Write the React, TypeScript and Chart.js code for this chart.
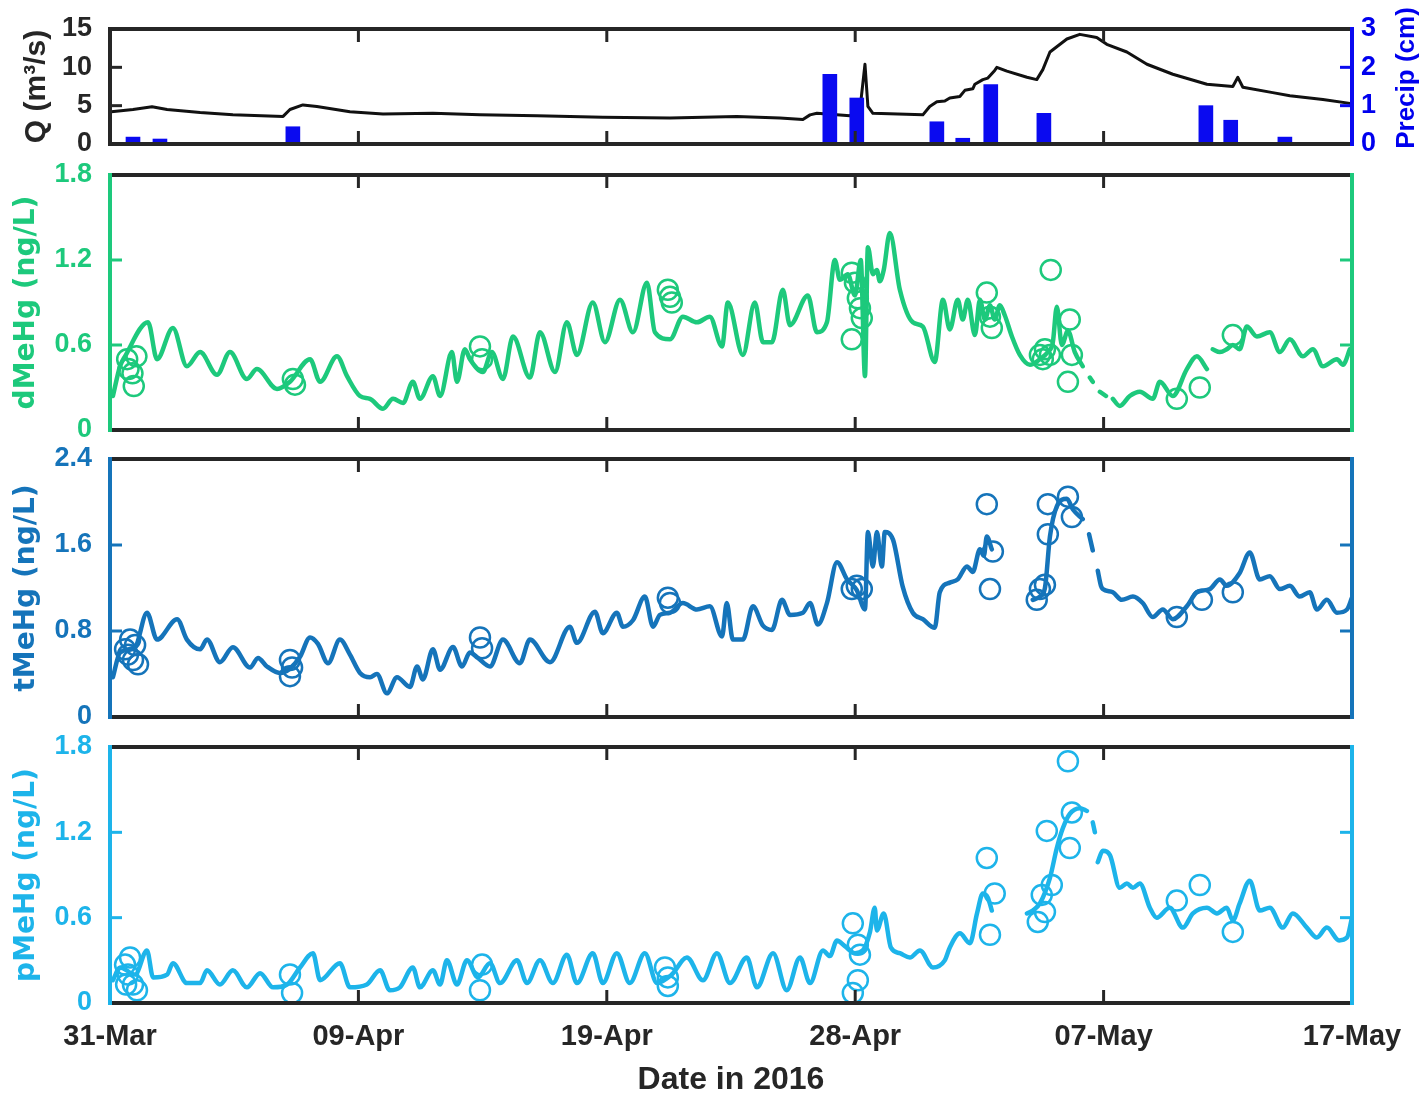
import React, { useEffect, useRef } from 'react';
import { Chart, registerables } from 'chart.js';

Chart.register(...registerables);

// ---------- data ----------
const xTickPos = [0, 9.4, 18.8, 28.2, 37.6, 47];
const xTickLabels = ['31-Mar', '09-Apr', '19-Apr', '28-Apr', '07-May', '17-May'];

const qTicks = [0, 5, 10, 15];
const precipTicks = [0, 1, 2, 3];
const dTicks = [0, 0.6, 1.2, 1.8];
const tTicks = [0, 0.8, 1.6, 2.4];
const pTicks = [0, 0.6, 1.2, 1.8];

type Pt = [number, number | null];

// discharge Q (m3/s): [day since 31-Mar, value]
const qLine: Pt[] = [[0.05,4.2],[0.87,4.5],[1.59,4.85],[2.16,4.5],[3.41,4.1],[4.65,3.8],[6.55,3.6],[6.81,4.5],[7.30,5.1],[7.83,4.9],[9.08,4.2],[10.33,3.9],[12.22,4.0],[14.0,3.8],[16.16,3.7],[18.65,3.5],[21.19,3.4],[23.72,3.6],[25.35,3.4],[26.22,3.2],[26.49,3.8],[26.75,4.0],[28.0,3.7],[28.38,4.5],[28.57,10.4],[28.68,4.9],[28.87,4.0],[30.76,3.8],[31.02,4.9],[31.29,5.5],[31.59,5.6],[31.78,6.0],[32.16,6.2],[32.35,7.0],[32.65,7.2],[32.73,7.8],[33.03,8.4],[33.22,8.6],[33.48,9.6],[33.56,10.0],[33.94,9.5],[34.70,8.7],[35.07,8.4],[35.30,9.7],[35.57,12.0],[36.21,13.7],[36.70,14.3],[37.34,13.9],[37.72,13.0],[38.48,12.0],[39.24,10.4],[40.22,9.1],[41.51,7.8],[42.49,7.5],[42.68,8.7],[42.87,7.4],[44.0,6.7],[44.65,6.3],[45.90,5.8],[46.92,5.3]];

const precipDay = [0.87, 1.89, 6.92, 27.24, 28.26, 31.29, 32.27, 33.33, 35.34, 41.47, 42.41, 44.46];
const precipCm = [0.18, 0.13, 0.45, 1.82, 1.2, 0.58, 0.15, 1.55, 0.8, 1.0, 0.62, 0.18];

const dMeHgLine: Pt[] = [[0.11,0.24],[0.38,0.45],[0.57,0.52],[1.44,0.76],[1.78,0.50],[2.38,0.72],[2.91,0.45],[3.41,0.55],[4.05,0.39],[4.54,0.55],[5.18,0.36],[5.56,0.43],[6.32,0.29],[6.81,0.34],[7.57,0.50],[7.95,0.34],[8.59,0.52],[8.97,0.38],[9.46,0.24],[9.84,0.22],[10.33,0.15],[10.71,0.22],[11.09,0.19],[11.46,0.34],[11.73,0.22],[12.22,0.38],[12.49,0.24],[12.94,0.55],[13.13,0.34],[13.43,0.57],[13.62,0.50],[14.11,0.41],[14.45,0.55],[14.87,0.36],[15.25,0.66],[15.89,0.37],[16.27,0.69],[16.84,0.41],[17.29,0.76],[17.67,0.53],[18.27,0.90],[18.73,0.62],[19.30,0.92],[19.79,0.69],[20.32,1.04],[20.62,0.69],[21.19,0.64],[21.68,0.80],[22.21,0.76],[22.70,0.80],[23.16,0.59],[23.38,0.90],[23.95,0.53],[24.40,0.90],[24.71,0.62],[25.05,0.62],[25.46,0.99],[25.73,0.74],[26.41,0.95],[26.75,0.69],[27.13,0.76],[27.43,1.20],[27.62,1.06],[27.92,1.10],[28.19,0.95],[28.41,1.20],[28.57,0.38],[28.68,1.29],[28.87,1.10],[29.02,1.13],[29.13,1.05],[29.28,1.13],[29.51,1.39],[29.89,0.99],[30.38,0.76],[30.76,0.73],[31.21,0.48],[31.52,0.92],[31.78,0.71],[32.08,0.92],[32.27,0.78],[32.46,0.92],[32.73,0.67],[32.92,0.92],[33.11,0.78],[33.30,0.88],[33.48,0.78],[33.67,0.88],[33.86,0.81],[34.13,0.66],[34.43,0.53],[34.81,0.46],[35.19,0.50],[35.49,0.55],[35.68,0.62],[35.83,0.87],[36.02,0.60],[36.25,0.70],[36.51,0.55],[36.81,0.45],[36.95,null],[37.08,0.37],[37.19,0.34],[37.30,null],[37.46,0.27],[37.69,0.24],[37.80,null],[37.95,0.22],[38.21,0.17],[38.59,0.24],[38.97,0.27],[39.46,0.22],[39.73,0.34],[40.22,0.24],[40.75,0.43],[41.13,0.52],[41.51,0.43],[41.62,null],[41.73,0.57],[42.00,0.55],[42.26,0.57],[42.49,0.60],[42.75,0.57],[43.02,0.73],[43.40,0.66],[43.89,0.69],[44.27,0.55],[44.65,0.64],[45.14,0.52],[45.52,0.57],[45.90,0.45],[46.43,0.50],[46.66,0.46],[46.92,0.57]];

const dMeHgSamples: Pt[] = [[0.65,0.50],[0.7,0.43],[0.85,0.40],[0.9,0.31],[1.0,0.52],[6.92,0.36],[7.0,0.32],[14.0,0.59],[14.08,0.50],[21.11,0.99],[21.19,0.94],[21.26,0.90],[28.07,1.11],[28.19,1.04],[28.30,0.93],[28.38,0.86],[28.45,0.79],[28.07,0.64],[33.18,0.97],[33.30,0.80],[33.37,0.72],[35.19,0.53],[35.30,0.50],[35.38,0.57],[35.57,0.53],[35.60,1.13],[36.32,0.78],[36.40,0.53],[36.25,0.34],[40.37,0.22],[41.24,0.30],[42.49,0.67]];

const tMeHgLine: Pt[] = [[0.11,0.37],[0.38,0.60],[0.95,0.65],[1.40,0.97],[1.78,0.72],[2.54,0.91],[2.91,0.72],[3.41,0.63],[3.67,0.72],[4.16,0.51],[4.65,0.65],[5.30,0.46],[5.60,0.55],[5.94,0.47],[6.43,0.41],[6.81,0.45],[7.19,0.56],[7.57,0.74],[7.87,0.68],[8.25,0.50],[8.70,0.72],[9.08,0.58],[9.46,0.41],[9.84,0.37],[10.10,0.40],[10.48,0.22],[10.86,0.37],[11.35,0.28],[11.62,0.47],[11.84,0.35],[12.22,0.63],[12.49,0.44],[12.98,0.65],[13.32,0.47],[13.62,0.60],[13.92,0.55],[14.38,0.47],[14.87,0.72],[15.51,0.50],[15.89,0.72],[16.65,0.51],[17.40,0.84],[17.67,0.69],[18.35,0.98],[18.65,0.78],[19.18,0.97],[19.41,0.84],[19.79,0.90],[20.24,1.12],[20.55,0.84],[20.81,0.95],[21.19,0.97],[21.68,1.06],[22.21,1.00],[22.70,1.03],[23.16,0.75],[23.34,1.06],[23.57,0.72],[23.95,0.72],[24.33,1.03],[24.71,0.85],[25.05,0.81],[25.43,1.09],[25.73,0.95],[26.22,0.97],[26.49,1.06],[26.79,0.86],[27.13,1.06],[27.51,1.44],[27.89,1.28],[28.26,1.18],[28.57,1.00],[28.68,1.72],[28.87,1.40],[29.02,1.72],[29.21,1.40],[29.32,1.72],[29.63,1.65],[30.00,1.21],[30.38,0.97],[30.76,0.91],[31.21,0.83],[31.40,1.16],[31.78,1.25],[32.08,1.28],[32.43,1.40],[32.65,1.35],[32.92,1.56],[33.07,1.50],[33.18,1.68],[33.37,1.56],[34.2,null],[34.92,1.09],[35.19,1.12],[35.38,1.20],[35.57,1.68],[35.83,1.96],[36.21,2.03],[36.44,1.93],[36.81,1.84],[36.9,null],[37.05,1.70],[37.19,1.55],[37.27,null],[37.38,1.36],[37.50,1.22],[37.57,1.19],[37.95,1.16],[38.29,1.09],[38.71,1.12],[39.08,1.06],[39.46,0.93],[39.84,1.00],[40.22,0.91],[40.75,1.03],[41.13,1.16],[41.62,1.19],[42.00,1.28],[42.26,1.22],[42.75,1.34],[43.13,1.53],[43.51,1.28],[43.89,1.31],[44.27,1.19],[44.65,1.22],[45.02,1.12],[45.40,1.16],[45.67,1.00],[46.05,1.09],[46.43,0.97],[46.81,1.00],[47.0,1.11]];

const tMeHgSamples: Pt[] = [[0.57,0.63],[0.68,0.58],[0.76,0.72],[0.87,0.53],[0.95,0.67],[1.06,0.49],[6.81,0.53],[6.89,0.46],[6.81,0.38],[14.0,0.74],[14.08,0.64],[21.11,1.11],[21.19,1.06],[28.07,1.19],[28.26,1.22],[28.45,1.19],[33.18,1.98],[33.41,1.54],[33.30,1.19],[35.07,1.09],[35.19,1.19],[35.38,1.23],[35.49,1.98],[35.49,1.70],[36.25,2.05],[36.40,1.86],[40.37,0.93],[41.32,1.09],[42.49,1.16]];

const pMeHgLine: Pt[] = [[0.11,0.16],[0.38,0.25],[0.95,0.20],[1.40,0.37],[1.63,0.18],[2.16,0.20],[2.38,0.28],[2.91,0.14],[3.41,0.14],[3.67,0.23],[4.16,0.13],[4.65,0.23],[5.18,0.11],[5.68,0.21],[6.17,0.11],[6.70,0.13],[7.19,0.25],[7.68,0.35],[7.95,0.16],[8.70,0.28],[9.08,0.11],[9.72,0.13],[10.22,0.23],[10.59,0.09],[10.97,0.11],[11.46,0.25],[11.73,0.11],[12.22,0.23],[12.49,0.13],[12.75,0.30],[13.13,0.13],[13.51,0.30],[13.92,0.18],[14.38,0.28],[14.76,0.14],[15.40,0.30],[15.78,0.14],[16.27,0.30],[16.76,0.14],[17.29,0.34],[17.67,0.14],[18.27,0.35],[18.65,0.14],[19.18,0.35],[19.67,0.14],[20.24,0.35],[20.70,0.14],[21.26,0.20],[21.83,0.32],[22.44,0.16],[22.97,0.35],[23.46,0.14],[24.10,0.32],[24.48,0.11],[25.09,0.35],[25.61,0.09],[26.11,0.32],[26.49,0.14],[26.98,0.37],[27.24,0.33],[27.51,0.44],[27.81,0.40],[28.19,0.35],[28.49,0.37],[28.76,0.50],[28.94,0.67],[29.02,0.51],[29.28,0.63],[29.55,0.39],[29.89,0.35],[30.27,0.32],[30.65,0.37],[31.14,0.25],[31.59,0.30],[31.78,0.39],[32.16,0.49],[32.54,0.42],[32.81,0.63],[33.03,0.77],[33.22,0.74],[33.37,0.65],[33.9,null],[34.70,0.63],[34.92,0.65],[35.19,0.70],[35.57,0.88],[35.83,1.09],[36.06,1.23],[36.32,1.33],[36.70,1.37],[36.97,1.35],[37.05,null],[37.19,1.27],[37.27,1.20],[37.32,null],[37.38,0.99],[37.57,1.07],[37.84,1.04],[38.21,0.81],[38.48,0.84],[38.71,0.81],[38.97,0.84],[39.35,0.67],[39.61,0.60],[40.10,0.67],[40.60,0.53],[40.98,0.63],[41.51,0.67],[41.89,0.63],[42.26,0.67],[42.49,0.58],[42.75,0.70],[43.13,0.86],[43.51,0.65],[43.89,0.67],[44.38,0.53],[44.76,0.63],[45.29,0.53],[45.67,0.46],[46.05,0.53],[46.51,0.44],[46.81,0.46],[47.0,0.60]];

const pMeHgSamples: Pt[] = [[0.57,0.27],[0.61,0.13],[0.68,0.20],[0.76,0.32],[0.87,0.13],[1.02,0.09],[6.81,0.20],[6.89,0.07],[14.0,0.09],[14.08,0.27],[21.0,0.25],[21.11,0.18],[21.11,0.12],[28.11,0.56],[28.30,0.41],[28.38,0.34],[28.30,0.16],[28.11,0.07],[33.18,1.02],[33.48,0.77],[33.30,0.48],[35.11,0.57],[35.26,0.76],[35.38,0.64],[35.64,0.83],[35.45,1.21],[36.25,1.70],[36.32,1.09],[36.40,1.34],[40.37,0.72],[41.24,0.83],[42.49,0.50]];

// ---------- styling ----------
const FONT = "'Liberation Sans', Arial, Helvetica, sans-serif";
const TITLE_FONT = "'DejaVu Sans', 'Liberation Sans', Arial, sans-serif";
const AXIS = '#262626';
const GREEN = '#1DC97C';
const TBLUE = '#1574BA';
const PBLUE = '#1DB4EA';
const PRECIP = '#0A0AF0';
const PRECIP_TXT = '#0000EE';

const toXY = (a: Pt[]) => a.map(([x, y]) => ({ x, y }));

const framePlugin = {
  id: 'frame',
  afterDraw(chart: any, _args: any, o: any) {
    const { ctx, chartArea: a } = chart;
    const xs = chart.scales.x;
    const ys = chart.scales.y;
    const seg = (x1: number, y1: number, x2: number, y2: number) => {
      ctx.beginPath();
      ctx.moveTo(x1, y1);
      ctx.lineTo(x2, y2);
      ctx.stroke();
    };
    ctx.save();
    ctx.lineCap = 'butt';
    ctx.lineWidth = 3;
    ctx.strokeStyle = AXIS;
    xTickPos.forEach((v) => {
      const px = xs.getPixelForValue(v);
      if (px < a.left + 3 || px > a.right - 3) return;
      seg(px, a.top, px, a.top + 13);
      seg(px, a.bottom, px, a.bottom - 13);
    });
    ctx.strokeStyle = o.leftColor;
    (o.leftTicks as number[]).forEach((v) => {
      const py = ys.getPixelForValue(v);
      if (py < a.top + 3 || py > a.bottom - 3) return;
      seg(a.left, py, a.left + 12, py);
    });
    const rs = o.rightScale ? chart.scales[o.rightScale] : ys;
    ctx.strokeStyle = o.rightColor;
    (o.rightTicks as number[]).forEach((v) => {
      const py = rs.getPixelForValue(v);
      if (py < a.top + 3 || py > a.bottom - 3) return;
      seg(a.right, py, a.right - 12, py);
    });
    ctx.lineWidth = 4;
    ctx.strokeStyle = AXIS;
    seg(a.left, a.top, a.right, a.top);
    seg(a.left, a.bottom, a.right, a.bottom);
    ctx.strokeStyle = o.leftColor;
    seg(a.left, a.top - 2, a.left, a.bottom + 2);
    ctx.strokeStyle = o.rightColor;
    seg(a.right, a.top - 2, a.right, a.bottom + 2);
    if (o.rightTitle) {
      ctx.translate(o.rightTitleX, o.rightTitleY);
      ctx.rotate(-Math.PI / 2);
      ctx.font = `bold 26px ${FONT}`;
      ctx.fillStyle = PRECIP_TXT;
      ctx.textAlign = 'center';
      ctx.textBaseline = 'middle';
      ctx.fillText(o.rightTitle, 0, 0);
    }
    ctx.restore();
  },
};

type PanelSpec = {
  top: number;
  height: number;
  padTop: number;
  padBottom: number;
  showX: boolean;
  yTicks: number[];
  yMax: number;
  color: string;
  title: string;
  titlePad: number;
  titleFont: any;
  datasets: any[];
  rightAxis?: boolean;
};

function yAxis(p: PanelSpec, color: string) {
  return {
    type: 'linear',
    position: 'left',
    min: 0,
    max: p.yMax,
    afterBuildTicks: (s: any) => {
      s.ticks = p.yTicks.map((v) => ({ value: v }));
    },
    afterFit: (s: any) => {
      s.width = 110;
      s.paddingTop = 0;
      s.paddingBottom = 0;
    },
    grid: { display: false, drawTicks: false },
    border: { display: false },
    ticks: {
      color,
      padding: 18,
      font: { family: FONT, size: 27, weight: 'bold', lineHeight: 1 },
      callback: (v: any) => String(v),
    },
    title: {
      display: true,
      text: p.title,
      color,
      padding: { top: p.titlePad, bottom: 0 },
      font: p.titleFont,
    },
  };
}

function buildConfig(p: PanelSpec) {
  const scales: any = {
    x: {
      type: 'linear',
      min: 0,
      max: 47,
      offset: false,
      display: p.showX,
      afterBuildTicks: (s: any) => {
        s.ticks = xTickPos.map((v) => ({ value: v }));
      },
      afterFit: (s: any) => {
        s.height = p.showX ? 95 : 0;
        s.paddingLeft = 0;
        s.paddingRight = 0;
      },
      grid: { display: false, drawTicks: false },
      border: { display: false },
      ticks: {
        color: AXIS,
        padding: 17,
        maxRotation: 0,
        autoSkip: false,
        font: { family: FONT, size: 29, weight: 'bold' },
        callback: (_v: any, i: number) => xTickLabels[i],
      },
      title: {
        display: p.showX,
        text: 'Date in 2016',
        color: AXIS,
        padding: { top: 0, bottom: 0 },
        font: { family: FONT, size: 32, weight: 'bold', lineHeight: 1.1 },
      },
    },
    y: yAxis(p, p.rightAxis ? AXIS : p.color),
  };
  if (p.rightAxis) {
    scales.yP = {
      type: 'linear',
      position: 'right',
      min: 0,
      max: 3,
      afterBuildTicks: (s: any) => {
        s.ticks = precipTicks.map((v) => ({ value: v }));
      },
      afterFit: (s: any) => {
        s.width = 73;
        s.paddingTop = 0;
        s.paddingBottom = 0;
      },
      grid: { display: false, drawTicks: false },
      border: { display: false },
      ticks: {
        color: PRECIP_TXT,
        padding: 9,
        font: { family: FONT, size: 27, weight: 'bold', lineHeight: 1 },
        callback: (v: any) => String(v),
      },
    };
  }
  const leftColor = p.rightAxis ? AXIS : p.color;
  return {
    type: 'line',
    data: { datasets: p.datasets },
    options: {
      responsive: false,
      animation: false,
      events: [],
      layout: {
        padding: { top: p.padTop, bottom: p.padBottom, left: 0, right: p.rightAxis ? 0 : 73 },
      },
      plugins: {
        legend: { display: false },
        tooltip: { enabled: false },
        frame: {
          leftColor,
          rightColor: p.rightAxis ? PRECIP : p.color,
          leftTicks: p.yTicks,
          rightTicks: p.rightAxis ? precipTicks : p.yTicks,
          rightScale: p.rightAxis ? 'yP' : null,
          rightTitle: p.rightAxis ? 'Precip (cm)' : null,
          rightTitleX: 1407,
          rightTitleY: 78,
        },
      },
      scales,
    },
    plugins: [framePlugin],
  };
}

function lineDs(pts: Pt[], color: string, width: number, smooth: boolean, order = 1) {
  return {
    type: 'line',
    data: toXY(pts),
    borderColor: color,
    borderWidth: width,
    pointRadius: 0,
    tension: smooth ? 0.4 : 0,
    cubicInterpolationMode: smooth ? 'monotone' : 'default',
    spanGaps: false,
    borderJoinStyle: 'round',
    borderCapStyle: 'round',
    order,
  };
}

function sampleDs(pts: Pt[], color: string) {
  return {
    type: 'line',
    data: toXY(pts),
    showLine: false,
    pointRadius: 10,
    pointBorderWidth: 2.5,
    pointBorderColor: color,
    pointBackgroundColor: 'rgba(0,0,0,0)',
    borderColor: color,
    clip: false,
    order: 0,
  };
}

const Y_TITLE_FONT = { family: TITLE_FONT, size: 28, weight: 'bold', lineHeight: 1.2 };

const panels: PanelSpec[] = [
  {
    top: 0, height: 160, padTop: 29, padBottom: 16, showX: false,
    yTicks: qTicks, yMax: 15, color: PRECIP, title: 'Q (m³/s)', titlePad: 19, rightAxis: true,
    titleFont: { family: FONT, size: 30, weight: 'bold', lineHeight: 1.2 },
    datasets: [
      {
        type: 'bar',
        data: precipDay.map((d, i) => ({ x: d, y: precipCm[i] })),
        yAxisID: 'yP',
        backgroundColor: PRECIP,
        borderWidth: 0,
        barThickness: 14,
        grouped: false,
        order: 0,
      },
      { ...lineDs(qLine, '#111111', 3, false, 1), yAxisID: 'y' },
    ],
  },
  {
    top: 160, height: 285, padTop: 15, padBottom: 15, showX: false,
    yTicks: dTicks, yMax: 1.8, color: GREEN, title: 'dMeHg (ng/L)', titlePad: 10, titleFont: Y_TITLE_FONT,
    datasets: [lineDs(dMeHgLine, GREEN, 4.5, true), sampleDs(dMeHgSamples, GREEN)],
  },
  {
    top: 445, height: 287, padTop: 14, padBottom: 15, showX: false,
    yTicks: tTicks, yMax: 2.4, color: TBLUE, title: 'tMeHg (ng/L)', titlePad: 10, titleFont: Y_TITLE_FONT,
    datasets: [lineDs(tMeHgLine, TBLUE, 4.5, true), sampleDs(tMeHgSamples, TBLUE)],
  },
  {
    top: 732, height: 366, padTop: 15, padBottom: 0, showX: true,
    yTicks: pTicks, yMax: 1.8, color: PBLUE, title: 'pMeHg (ng/L)', titlePad: 10, titleFont: Y_TITLE_FONT,
    datasets: [lineDs(pMeHgLine, PBLUE, 4.5, true), sampleDs(pMeHgSamples, PBLUE)],
  },
];

function Panel({ spec }: { spec: PanelSpec }) {
  const ref = useRef<HTMLCanvasElement | null>(null);
  useEffect(() => {
    if (!ref.current) return;
    const chart = new Chart(ref.current, buildConfig(spec) as any);
    return () => chart.destroy();
  }, [spec]);
  return (
    <canvas
      ref={ref}
      width={1425}
      height={spec.height}
      style={{ position: 'absolute', left: 0, top: spec.top, width: 1425, height: spec.height, display: 'block' }}
    />
  );
}

export default function App() {
  return (
    <div style={{ position: 'absolute', left: 0, top: 0, width: 1425, height: 1098, background: '#ffffff', overflow: 'hidden' }}>
      {panels.map((p, i) => (
        <Panel key={i} spec={p} />
      ))}
    </div>
  );
}
